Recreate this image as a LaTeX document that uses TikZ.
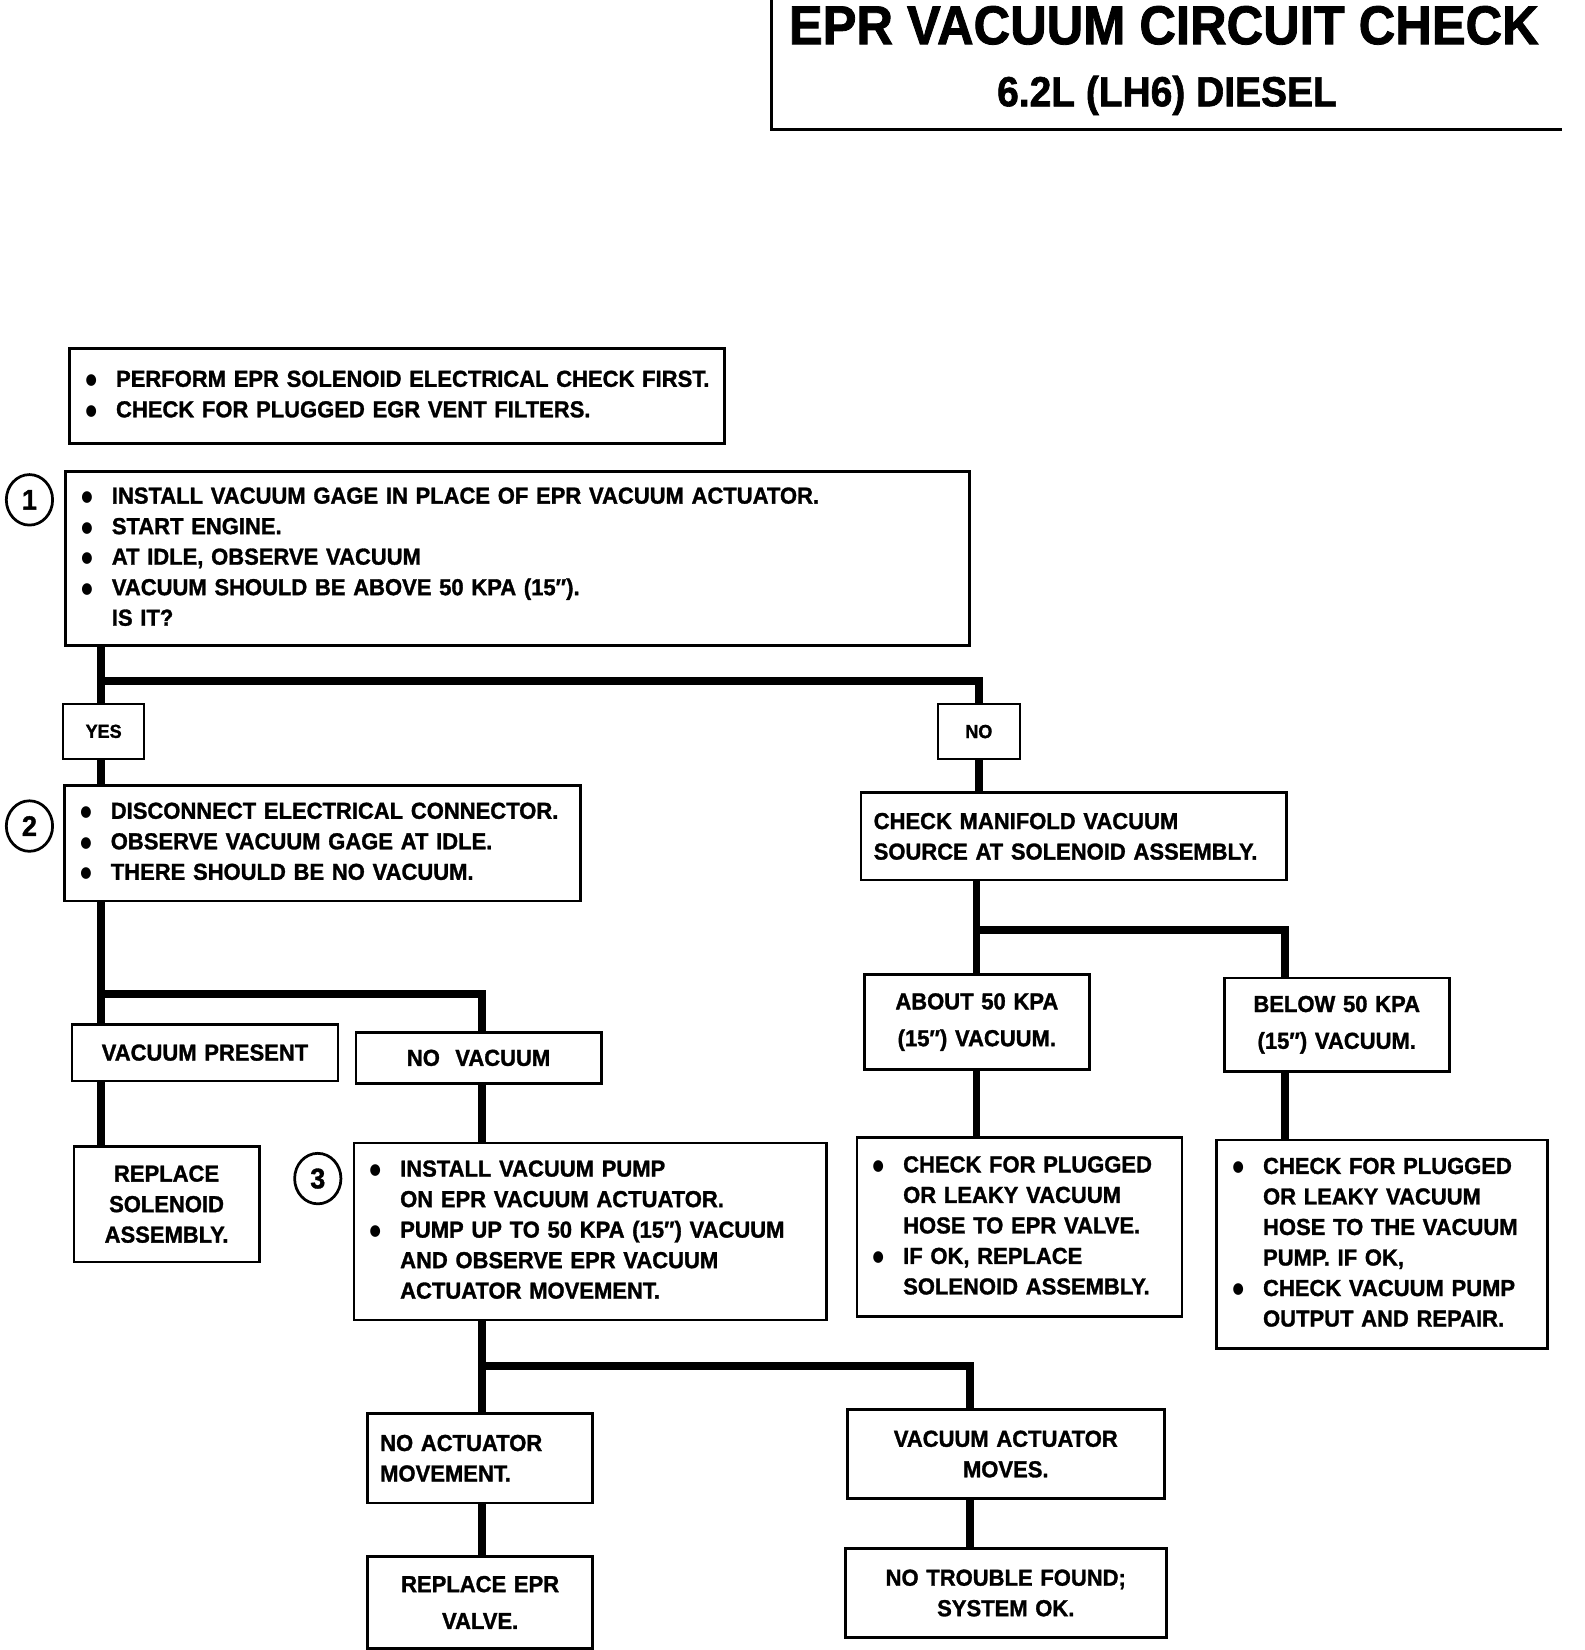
\documentclass[tikz,border=0pt]{standalone}
\usepackage{fontspec}
\setmainfont{Liberation Sans}[FakeStretch=0.95, BoldFeatures={FakeBold=1.3}]
\newfontfamily\titlefont{Liberation Sans}[FakeStretch=0.925, BoldFeatures={FakeBold=1.5}]
\newfontfamily\symfont{DejaVu Sans}[FakeStretch=0.85]
\usepackage{array}
\usetikzlibrary{shapes.geometric}
\newcommand\bodyfont{\fontsize{22}{29}\selectfont\bfseries}
\newcommand\smallfont{\fontsize{18}{22}\selectfont\bfseries}
\newcommand\bl{\hspace*{2pt}\raisebox{2pt}{\symfont\fontsize{14.5}{14}\selectfont ●}}
\newcommand\qq{″}
\newenvironment{blist}{\begin{tabular}{@{}p{31pt}@{}l@{}}}{\end{tabular}}
\begin{document}
\begin{tikzpicture}[x=1pt,y=-1pt,
  box/.style={draw, line width=2.6pt, rectangle, inner ysep=0pt, anchor=north west, font=\bodyfont},
  lbox/.style={box, inner xsep=13pt, align=left},
  l2box/.style={box, inner xsep=12pt, align=left},
  cbox/.style={box, inner xsep=4pt, align=center},
  conn/.style={line width=7.5pt, line join=miter},
  num/.style={draw, ellipse, line width=2.6pt, minimum width=44pt, minimum height=48pt, inner sep=0pt, font=\fontsize{27}{27}\selectfont\bfseries}
]
\useasboundingbox (0,0) rectangle (1506,1568);

% title
\node[anchor=base, inner sep=0pt, font=\titlefont\fontsize{52}{60}\selectfont\bfseries] (t1) at (1106,42) {EPR VACUUM CIRCUIT CHECK};
\node[anchor=base, inner sep=0pt, font=\titlefont\fontsize{40}{48}\selectfont\bfseries] (t2) at (1109,101) {6.2L (LH6) DIESEL};
\coordinate (tl) at (733,0);
\coordinate (tc) at (733,123);
\coordinate (tr) at (1484,123);
\draw[line width=2.6pt] (tl) -- (tc) -- (tr);

% boxes
\node[lbox, minimum width=622pt, minimum height=90pt, text width=596pt] (pre) at (65,330) {\begin{blist}
\bl & PERFORM EPR SOLENOID ELECTRICAL CHECK FIRST.\\
\bl & CHECK FOR PLUGGED EGR VENT FILTERS.
\end{blist}};

\node[lbox, minimum width=859pt, minimum height=165pt, text width=833pt] (b1) at (61,447) {\begin{blist}
\bl & INSTALL VACUUM GAGE IN PLACE OF EPR VACUUM ACTUATOR.\\
\bl & START ENGINE.\\
\bl & AT IDLE, OBSERVE VACUUM\\
\bl & VACUUM SHOULD BE ABOVE 50 KPA (15\qq).\\
    & IS IT?
\end{blist}};
\node[num] (c1) at (28,475) {1};

\node[cbox, minimum width=77pt, minimum height=52pt, text width=69pt, font=\smallfont, line width=2pt] (yes) at (59,668) {YES};
\node[cbox, minimum width=78pt, minimum height=52pt, text width=70pt, font=\smallfont, line width=2.4pt] (no) at (890,668) {NO};

\node[lbox, minimum width=490pt, minimum height=110pt, text width=464pt] (b2) at (60,745) {\begin{blist}
\bl & DISCONNECT ELECTRICAL CONNECTOR.\\
\bl & OBSERVE VACUUM GAGE AT IDLE.\\
\bl & THERE SHOULD BE NO VACUUM.
\end{blist}};
\node[num] (c2) at (28,785) {2};

\node[cbox, minimum width=253pt, minimum height=54pt, text width=245pt] (vp) at (67,972) {VACUUM PRESENT};
\node[cbox, minimum width=233pt, minimum height=48pt, text width=225pt] (nv) at (337,980) {NO\ \ VACUUM};
\node[cbox, minimum width=176pt, minimum height=110pt, text width=168pt] (rs) at (69,1088) {REPLACE\\SOLENOID\\ASSEMBLY.};

\node[lbox, minimum width=449pt, minimum height=168pt, text width=423pt] (b3) at (335,1085) {\begin{blist}
\bl & INSTALL VACUUM PUMP\\
    & ON EPR VACUUM ACTUATOR.\\
\bl & PUMP UP TO 50 KPA (15\qq) VACUUM\\
    & AND OBSERVE EPR VACUUM\\
    & ACTUATOR MOVEMENT.
\end{blist}};
\node[num] (c3) at (302,1120) {3};

\node[l2box, minimum width=214pt, minimum height=85pt, text width=190pt] (nam) at (348,1342) {NO ACTUATOR\\MOVEMENT.};
\node[cbox, minimum width=301pt, minimum height=85pt, text width=293pt] (vam) at (804,1338) {VACUUM ACTUATOR\\MOVES.};
\node[cbox, minimum width=214pt, minimum height=87pt, text width=206pt] (rev) at (348,1478) {REPLACE EPR\\[6pt]VALVE.};
\node[cbox, minimum width=305pt, minimum height=85pt, text width=297pt] (ntf) at (802,1470) {NO TROUBLE FOUND;\\SYSTEM OK.};

\node[l2box, minimum width=404pt, minimum height=83pt, text width=380pt] (cm) at (817,752) {CHECK MANIFOLD VACUUM\\SOURCE AT SOLENOID ASSEMBLY.};
\node[cbox, minimum width=214pt, minimum height=90pt, text width=206pt] (ab) at (820,925) {ABOUT 50 KPA\\[6pt](15\qq) VACUUM.};
\node[cbox, minimum width=214pt, minimum height=89pt, text width=206pt] (bw) at (1162,928) {BELOW 50 KPA\\[6pt](15\qq) VACUUM.};

\node[lbox, minimum width=309pt, minimum height=170pt, text width=283pt] (ck) at (813,1080) {\begin{blist}
\bl & CHECK FOR PLUGGED\\
    & OR LEAKY VACUUM\\
    & HOSE TO EPR VALVE.\\
\bl & IF OK, REPLACE\\
    & SOLENOID ASSEMBLY.
\end{blist}};
\node[lbox, minimum width=314pt, minimum height=198pt, text width=288pt] (rb) at (1155,1082) {\begin{blist}
\bl & CHECK FOR PLUGGED\\
    & OR LEAKY VACUUM\\
    & HOSE TO THE VACUUM\\
    & PUMP. IF OK,\\
\bl & CHECK VACUUM PUMP\\
    & OUTPUT AND REPAIR.
\end{blist}};

% junctions
\coordinate (j1) at (96,647);
\coordinate (j2) at (96,945);
\coordinate (j2b) at (458,945);
\coordinate (j3) at (928,884);
\coordinate (j4) at (1221,884);
\coordinate (j5) at (458,1298);
\coordinate (j6) at (922,1298);

% connectors
\draw[conn] (b1.south -| j1) -- (yes.north -| j1);
\draw[conn] (j1) -| (no.north);
\draw[conn] (yes.south -| j1) -- (b2.north -| j1);
\draw[conn] (no.south) -- (no.south |- cm.north);

\draw[conn] (b2.south -| j2) -- (vp.north -| j2);
\draw[conn] (j2) -- (j2b) -- (nv.north -| j2b);
\draw[conn] (vp.south -| j2) -- (rs.north -| j2);
\draw[conn] (nv.south -| j2b) -- (b3.north -| j2b);

\draw[conn] (b3.south -| j5) -- (nam.north -| j5);
\draw[conn] (j5) -- (j6) -- (vam.north -| j6);
\draw[conn] (nam.south -| j5) -- (rev.north -| j5);
\draw[conn] (vam.south -| j6) -- (ntf.north -| j6);

\draw[conn] (cm.south -| j3) -- (ab.north -| j3);
\draw[conn] (j3) -- (j4) -- (bw.north -| j4);
\draw[conn] (ab.south -| j3) -- (ck.north -| j3);
\draw[conn] (bw.south -| j4) -- (rb.north -| j4);
\end{tikzpicture}
\end{document}
